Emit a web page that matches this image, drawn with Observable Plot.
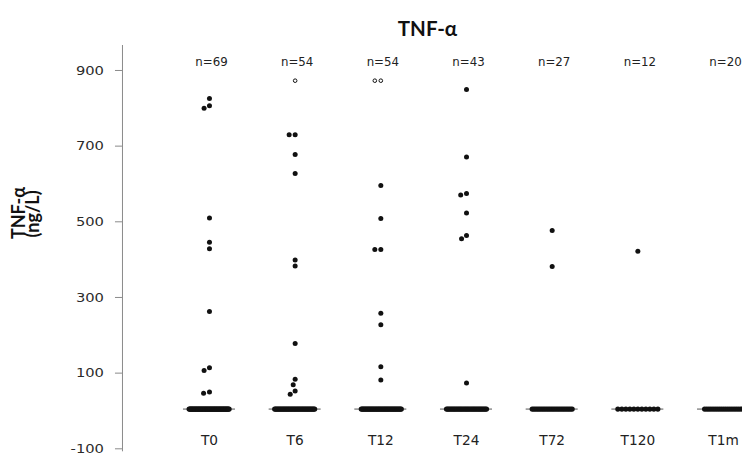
<!DOCTYPE html>
<html><head><meta charset="utf-8">
<script src="https://cdn.jsdelivr.net/npm/d3@7"></script>
<script src="https://cdn.jsdelivr.net/npm/@observablehq/plot@0.6"></script>
<style>
html,body{margin:0;padding:0;background:#fff;}
#chart{width:742px;height:454px;overflow:hidden;position:relative;}
</style>
</head><body><div id="chart"></div>
<script>
// ---- data ----
const categories = ["T0", "T6", "T12", "T24", "T72", "T120", "T1m"];
const nCounts = [69, 54, 54, 43, 27, 12, 20];
const medians = [5, 5, 5, 5, 5, 5, 5];
const detectionValue = 5; // value of the dense cluster on the median line
const aboveT0 = [826, 807, 800, 510, 446, 429, 263, 114, 107, 50, 47];
const aboveT6 = [730, 730, 678, 628, 399, 383, 178, 84, 69, 53, 44];
const aboveT12 = [596, 509, 427, 427, 258, 228, 117, 82];
const aboveT24 = [850, 671, 575, 571, 523, 464, 455, 74];
const aboveT72 = [477, 382];
const aboveT120 = [422];
const aboveT1m = [];
const openT0 = [], openT6 = [873], openT12 = [873, 873], openT24 = [], openT72 = [], openT120 = [], openT1m = [];
const yTicks = [-100, 100, 300, 500, 700, 900];
const yDomain = [-100, 966];
const titleText = "TNF-α";
const yLabelLines = ["TNF-α", "(ng/L)"];

// ---- tables built from the arrays ----
const aboveLists = [aboveT0, aboveT6, aboveT12, aboveT24, aboveT72, aboveT120, aboveT1m];
const openLists = [openT0, openT6, openT12, openT24, openT72, openT120, openT1m];
const groups = categories.map((c, i) => ({cat: c, n: nCounts[i], median: medians[i]}));
const above = categories.flatMap((c, i) => aboveLists[i].map(v => ({cat: c, value: v})));
const open = categories.flatMap((c, i) => openLists[i].map(v => ({cat: c, value: v})));
const baselineByGroup = categories.map((c, i) => {
  const k = nCounts[i] - aboveLists[i].length - openLists[i].length;
  return Array.from({length: k}, () => ({cat: c, value: detectionValue}));
});

const FONT = "DejaVu Sans, Verdana, sans-serif";
const clusterHalf = 20;

const baselineMarks = baselineByGroup.map(arr =>
  Plot.dot(arr, Plot.dodgeX({anchor: "middle", r: clusterHalf / Math.max(1, arr.length - 1), padding: 0},
    {fx: "cat", y: "value", r: 2.6, fill: "#111"}))
);

const plot = Plot.plot({
  width: 742,
  height: 454,
  marginTop: 45,
  marginBottom: 5.7,
  marginLeft: 149.3,
  marginRight: 0,
  style: {background: "white", overflow: "hidden"},
  fx: {domain: categories, range: [149.3, 782.7], paddingInner: 0.393, paddingOuter: 0.393, align: 0.5,
       round: false, axis: null, label: null},
  y: {domain: yDomain, axis: null, label: null},
  marks: [
    Plot.frame({anchor: "left", facetAnchor: "left", dx: -61, stroke: "#8a8a8a", insetBottom: -2}),
    Plot.axisY(yTicks, {anchor: "left", dx: -61, tickSize: 7, tickPadding: 11.5, stroke: "#8a8a8a", fill: "#2a2a2a",
      fontSize: 12.8, fontFamily: FONT, tickFormat: d => String(d), ariaLabel: "y-axis"}),
    Plot.ruleY(groups, {fx: "cat", y: "median", stroke: "#555", strokeWidth: 1}),
    ...baselineMarks,
    Plot.dot(above, Plot.dodgeX({anchor: "middle", r: 3, padding: 0},
      {fx: "cat", y: "value", r: 2.5, fill: "#111"})),
    Plot.dot(open, Plot.dodgeX({anchor: "middle", r: 3, padding: 0},
      {fx: "cat", y: "value", r: 1.8, fill: "white", stroke: "#111", strokeWidth: 1})),
    Plot.text(groups, {fx: "cat", text: d => "n=" + d.n, frameAnchor: "top", lineAnchor: "middle", dy: 16.7, dx: 2,
      fontSize: 11.8, fontFamily: FONT, fill: "#222", ariaLabel: "n label"}),
    Plot.text(groups, {fx: "cat", text: "cat", frameAnchor: "bottom", lineAnchor: "middle", dy: -8.3,
      fontSize: 13.7, fontFamily: FONT, fill: "#222", ariaLabel: "group label"})
  ]
});

document.getElementById("chart").appendChild(plot);

// the reference's tick and group labels are horizontally stretched
function stretch(selector, factor) {
  plot.querySelectorAll(selector).forEach(t => {
    const len = t.getComputedTextLength();
    if (len > 0) {
      t.setAttribute("textLength", (len * factor).toFixed(2));
      t.setAttribute("lengthAdjust", "spacingAndGlyphs");
    }
  });
}
stretch('g[aria-label="y-axis tick label"] text', 1.15);
stretch('g[aria-label="group label"] text', 1.45);

// title and rotated y label
const svg = d3.select(plot);
svg.append("text")
  .attr("x", 427.5).attr("y", 35.5)
  .attr("text-anchor", "middle")
  .attr("font-family", "Lato, 'Open Sans', sans-serif")
  .attr("font-weight", "bold")
  .attr("font-size", 20.5)
  .attr("fill", "#111")
  .text(titleText);
const yl = svg.append("g").attr("font-family", "Lato, 'Open Sans', sans-serif")
  .attr("font-weight", "bold").attr("font-size", 18).attr("fill", "#111").attr("text-anchor", "middle");
yl.append("text").attr("transform", "translate(24.8,213) rotate(-90)").text(yLabelLines[0]);
yl.append("text").attr("transform", "translate(38.5,214) rotate(-90)").text(yLabelLines[1]);
</script>
</body></html>
